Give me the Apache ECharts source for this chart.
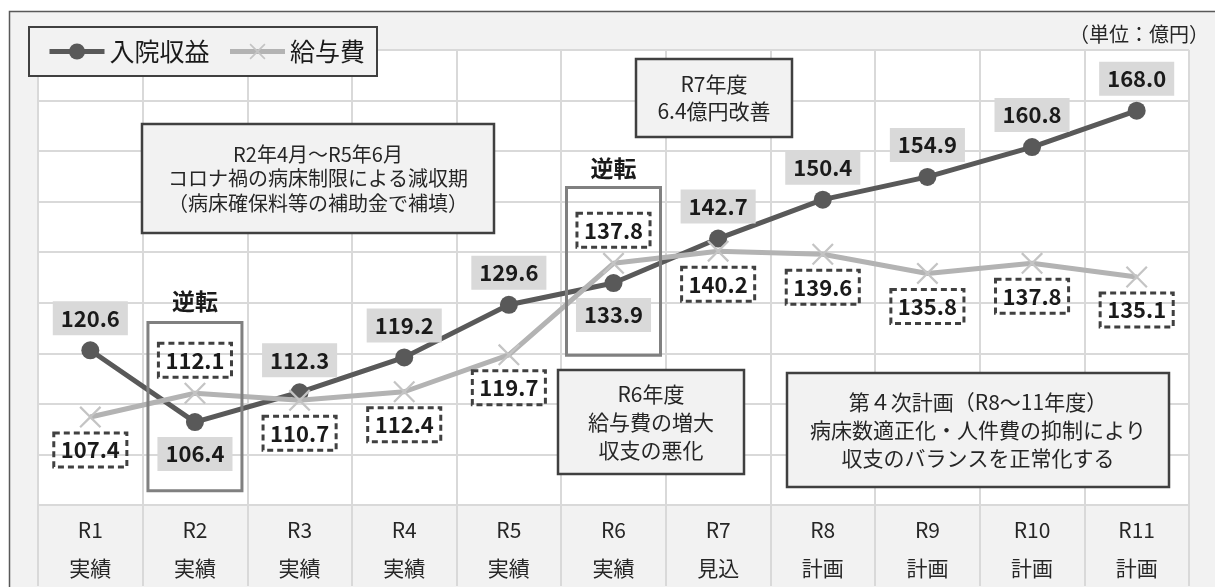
<!DOCTYPE html>
<html><head><meta charset="utf-8">
<script src="https://cdn.jsdelivr.net/npm/echarts@6/dist/echarts.min.js"></script>
<style>html,body{margin:0;padding:0;background:#fff}#c{width:1215px;height:587px}</style>
</head><body><div id="c"></div>
<script>
// ---- data ----
const years = ['R1','R2','R3','R4','R5','R6','R7','R8','R9','R10','R11'];
const stages = ['実績','実績','実績','実績','実績','実績','見込','計画','計画','計画','計画'];
const revenue = [120.6,106.4,112.3,119.2,129.6,133.9,142.7,150.4,154.9,160.8,168.0];
const salary  = [107.4,112.1,110.7,112.4,119.7,137.8,140.2,139.6,135.8,137.8,135.1];
const seriesNames = ['入院収益','給与費'];
const unitText = '（単位：億円）';
const reversalIdx = [1,5];
const noteCorona = 'R2年4月～R5年6月\nコロナ禍の病床制限による減収期\n（病床確保料等の補助金で補填）';
const noteR7 = 'R7年度\n6.4億円改善';
const noteR6 = 'R6年度\n給与費の増大\n収支の悪化';
const notePlan = '第４次計画（R8～11年度）\n病床数適正化・人件費の抑制により\n収支のバランスを正常化する';
const reversalText = '逆転';

// ---- chart ----
const FONT = '"Noto Sans CJK JP","Noto Sans",sans-serif';
const chart = echarts.init(document.getElementById('c'));
const categories = years.map((y,i)=>y+'\n'+stages[i]);
const revenueBelow = new Set(reversalIdx);
const salaryAbove = new Set(reversalIdx);
const XPATH = 'path://M0,1.6L1.6,0L11,9.4L20.4,0L22,1.6L12.6,11L22,20.4L20.4,22L11,12.6L1.6,22L0,20.4L9.4,11Z';

chart.setOption({
  animation:false,
  backgroundColor:'#f2f2f2',
  textStyle:{fontFamily:FONT},
  grid:{left:38,right:26,top:50,bottom:81,show:true,backgroundColor:'#ffffff',borderWidth:0},
  legend:{
    left:29, top:27, padding:[12,12,12,18], itemGap:18, itemWidth:55, itemHeight:20,
    backgroundColor:'#f2f2f2', borderColor:'#404040', borderWidth:2,
    textStyle:{fontSize:25,color:'#1a1a1a',fontFamily:FONT},
    lineStyle:{width:5},
    data:[
      {name:seriesNames[0], lineStyle:{width:5,color:'#595959'}},
      {name:seriesNames[1], lineStyle:{width:5,color:'#b3b3b3'}}
    ],
    selectedMode:false
  },
  xAxis:{
    type:'category', data:categories, boundaryGap:true,
    axisLine:{show:true,lineStyle:{color:'#d9d9d9',width:2}},
    axisTick:{show:true,interval:0,length:81,lineStyle:{color:'#d9d9d9',width:2}},
    axisLabel:{interval:0,fontSize:21,lineHeight:38,color:'#262626',margin:6,fontFamily:FONT},
    splitLine:{show:true,interval:0,lineStyle:{color:'#d9d9d9',width:2}}
  },
  yAxis:{
    type:'value', min:90, max:180, interval:10,
    axisLabel:{show:false}, axisLine:{show:false}, axisTick:{show:false},
    splitLine:{lineStyle:{color:'#d9d9d9',width:2}}
  },
  series:[
    {
      name:seriesNames[0], type:'line', silent:true, z:3,
      data:revenue.map((v,i)=>({value:v,label:{position:revenueBelow.has(i)?'bottom':'top'}})),
      symbol:'circle', symbolSize:18,
      lineStyle:{color:'#595959',width:5}, itemStyle:{color:'#595959'},
      label:{show:true,distance:6,formatter:p=>p.value.toFixed(1),fontSize:22,fontWeight:'bold',
        color:'#1a1a1a',backgroundColor:'#d9d9d9',padding:[6,8,6,8],fontFamily:FONT},
      emphasis:{disabled:true}
    },
    {
      name:seriesNames[1], type:'line', silent:true, z:4,
      data:salary.map((v,i)=>({value:v,label:{position:salaryAbove.has(i)?'top':'bottom'}})),
      symbol:XPATH, symbolSize:22,
      lineStyle:{color:'#b3b3b3',width:5}, itemStyle:{color:'#c4c4c4'},
      label:{show:true,distance:5,formatter:p=>p.value.toFixed(1),fontSize:22,fontWeight:'bold',
        color:'#1a1a1a',backgroundColor:'rgba(255,255,255,0)',borderColor:'#404040',borderWidth:1.5,
        borderType:[6,4],padding:[6,7,6,7],fontFamily:FONT},
      emphasis:{disabled:true}
    }
  ]
});

// ---- annotations ----
function px(i,v){return chart.convertToPixel({seriesIndex:0},[i,v]);}
const g = [];
// outer frame
g.push({type:'rect',shape:{x:0,y:0,width:1215,height:11},style:{fill:'#fff'},z:50});
g.push({type:'rect',shape:{x:0,y:0,width:9,height:587},style:{fill:'#fff'},z:50});
g.push({type:'polyline',shape:{points:[[9.5,587],[9.5,11.5],[1215,11.5]]},style:{stroke:'#595959',lineWidth:1.5,fill:null},z:51});
g.push({type:'text',style:{text:unitText,x:1209,y:34,align:'right',verticalAlign:'middle',fontSize:20,fontFamily:FONT,fill:'#262626'},z:51});

function noteBox(x,y,w,h,text,fs,lh){
  g.push({type:'rect',shape:{x:x,y:y,width:w,height:h},style:{fill:'#f2f2f2',stroke:'#404040',lineWidth:2.5},z:60});
  g.push({type:'text',style:{text:text,x:x+w/2,y:y+h/2,align:'center',verticalAlign:'middle',fontSize:fs,lineHeight:lh,fontFamily:FONT,fill:'#262626'},z:61});
}
noteBox(142,124,352,109,noteCorona,20,24.5);
noteBox(636,59,156,78,noteR7,21,27);
noteBox(558,370,186,104,noteR6,21,28);
noteBox(787,373,382,114,notePlan,21,28);

// reversal boxes
const revBox = [[126.1,92.8,130.3],[152.8,119.6,156.7]];
reversalIdx.forEach((ci,k)=>{
  const top = px(ci,revBox[k][0]), bot = px(ci,revBox[k][1]), t = px(ci,revBox[k][2]);
  g.push({type:'rect',shape:{x:top[0]-47,y:top[1],width:94,height:bot[1]-top[1]},style:{fill:null,stroke:'#808080',lineWidth:3},z:40});
  g.push({type:'text',style:{text:reversalText,x:t[0],y:t[1],align:'center',verticalAlign:'middle',fontSize:23,fontWeight:'bold',fontFamily:FONT,fill:'#1a1a1a'},z:41});
});
chart.setOption({graphic:g});
</script>
</body></html>
